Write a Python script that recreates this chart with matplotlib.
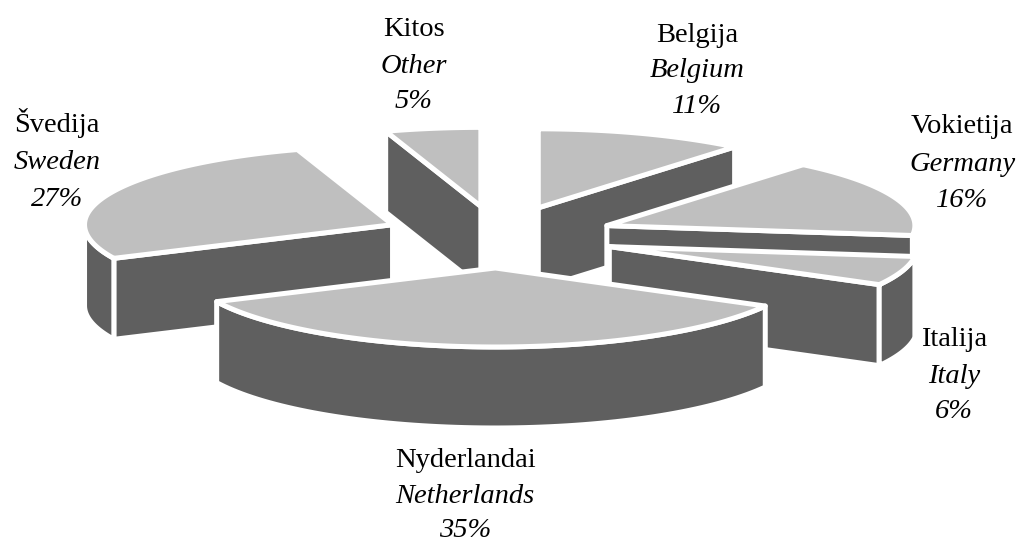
#!/usr/bin/python
# exploded 3D pie, drawn by hand since matplotlib has no such thing
import numpy as np
import matplotlib
matplotlib.use('Agg')
import matplotlib.pyplot as plt
from matplotlib.patches import Polygon

names_lt = ['Belgija', 'Vokietija', 'Italija', 'Nyderlandai', 'Švedija', 'Kitos']
names_en = ['Belgium', 'Germany', 'Italy', 'Netherlands', 'Sweden', 'Other']
shares = [11, 16, 6, 35, 27, 5]

# layout, in pixels of the picture
cx, cy = 499, 237
rx, ry = 308, 79
exp_x, exp_y = 116, 31
depth = 81
light = '#bfbfbf'
dark = '#5f5f5f'
edge = 5 * 72 / 100.0

# x and the 3 text baselines, per slice
label_x = [697, 962, 954, 465, 57, 414]
label_y = [(42, 77, 113), (133, 171, 207), (346, 383, 418),
           (467, 503, 537), (132, 169, 206), (36, 73, 108)]

plt.rcParams['font.family'] = ['Liberation Serif', 'DejaVu Serif']

fig = plt.figure(figsize=(10.2, 5.43), dpi=100)
ax = fig.add_axes([0, 0, 1, 1])
ax.set_xlim(0, 1020)
ax.set_ylim(543, 0)
ax.axis('off')


def rim(t, ox, oy, drop=0):
    # t clockwise from 12 o'clock, radians
    return np.column_stack([ox + rx * np.sin(t), oy - ry * np.cos(t) + drop])


def wall(pts):
    ax.add_patch(Polygon(pts, closed=True, fc=dark, ec='white', lw=edge, joinstyle='round'))


def draw_slice(t1, t2):
    mid = (t1 + t2) / 2
    ox = cx + exp_x * np.sin(mid)
    oy = cy - exp_y * np.cos(mid)
    apex = np.array([[ox, oy]])
    low = np.array([[ox, oy + depth]])

    # only walls which face the viewer
    if np.sin(t1) < 0:
        p = rim(np.array([t1]), ox, oy)
        q = rim(np.array([t1]), ox, oy, depth)
        wall(np.vstack([apex, p, q, low]))
    if np.sin(t2) > 0:
        p = rim(np.array([t2]), ox, oy)
        q = rim(np.array([t2]), ox, oy, depth)
        wall(np.vstack([apex, p, q, low]))
    a = max(t1, np.pi / 2)
    b = min(t2, 3 * np.pi / 2)
    if a < b:
        t = np.linspace(a, b, 80)
        wall(np.vstack([rim(t, ox, oy), rim(t[::-1], ox, oy, depth)]))

    t = np.linspace(t1, t2, 120)
    ax.add_patch(Polygon(np.vstack([apex, rim(t, ox, oy)]), closed=True, fc=light,
                         ec='white', lw=edge, joinstyle='round'))


edges = np.cumsum([0] + shares) / float(sum(shares)) * 2 * np.pi

# back to front
for i in [5, 0, 4, 1, 2, 3]:
    draw_slice(edges[i], edges[i + 1])

for i in range(len(shares)):
    x = label_x[i]
    y1, y2, y3 = label_y[i]
    ax.text(x, y1, names_lt[i], ha='center', va='baseline', fontsize=20.5)
    ax.text(x, y2, names_en[i], ha='center', va='baseline', fontsize=20.5, style='italic')
    ax.text(x, y3, '%d%%' % shares[i], ha='center', va='baseline', fontsize=20.5, style='italic')

fig.savefig('out.png', dpi=100)
